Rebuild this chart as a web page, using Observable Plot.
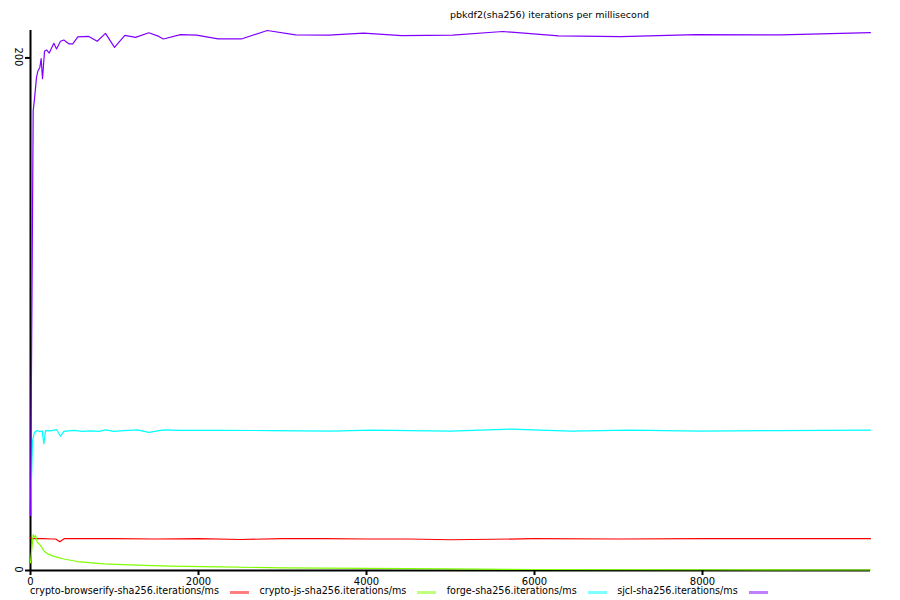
<!DOCTYPE html>
<html>
<head>
<meta charset="utf-8">
<script src="https://cdn.jsdelivr.net/npm/d3@7"></script>
<script src="https://cdn.jsdelivr.net/npm/@observablehq/plot@0.6"></script>
<style>
  html, body { margin: 0; padding: 0; background: #fff; }
  #wrap { position: relative; width: 900px; height: 600px; font-family: "DejaVu Sans", sans-serif; }
  #title { position: absolute; top: 9px; left: 450px; font-size: 9.5px; line-height: 12px; color: #000; white-space: nowrap; }
  #legend { position: absolute; top: 585px; left: 30px; font-size: 9.6px; line-height: 12px; display: flex; align-items: center; white-space: nowrap; }
  #legend .sw { display: inline-block; width: 19px; height: 3px; margin: 2px 10.5px 0 11px; }
  #chart { position: absolute; top: 0; left: 0; }
</style>
</head>
<body>
<div id="wrap">
  <div id="chart"></div>
  <div id="title"></div>
  <div id="legend"></div>
</div>
<script>
const title = "pbkdf2(sha256) iterations per millisecond";
const seriesNames = [
  "crypto-browserify-sha256.iterations/ms",
  "crypto-js-sha256.iterations/ms",
  "forge-sha256.iterations/ms",
  "sjcl-sha256.iterations/ms"
];
const seriesColors = ["#ff0000", "#80ff00", "#00ffff", "#8000ff"];
const xTicks = [0, 2000, 4000, 6000, 8000];
const yTicks = [0, 200];

// crypto-browserify (red)
const browserifyX = [0, 30, 60, 150, 250, 300, 349, 400, 600, 1000, 1500, 2000, 2500, 3000, 3500, 4000, 4500, 5000, 5500, 6000, 7000, 8000, 9000, 10000];
const browserifyY = [12.8, 12.4, 12.4, 12.4, 12.3, 12.3, 11.2, 12.4, 12.4, 12.4, 12.3, 12.4, 12.1, 12.4, 12.4, 12.3, 12.3, 12.0, 12.2, 12.4, 12.3, 12.4, 12.4, 12.4];

// crypto-js (green)
const cryptojsX = [0, 32, 48, 60, 80, 119, 160, 199, 278, 397, 556, 873, 1271, 1667, 2263, 3000, 4000, 5000, 6000, 8000, 10000];
const cryptojsY = [3.0, 14.0, 13.0, 13.6, 11.0, 9.8, 7.6, 6.6, 5.5, 4.5, 3.5, 2.6, 2.1, 1.7, 1.4, 1.0, 0.8, 0.6, 0.4, 0.3, 0.2];

// forge (cyan)
const forgeX = [0, 24, 48, 80, 111, 139, 159, 179, 238, 310, 357, 397, 516, 615, 715, 814, 893, 993, 1112, 1271, 1409, 1588, 1787, 2263, 2859, 3570, 4050, 5000, 5720, 6430, 7140, 7980, 8930, 10000];
const forgeY = [21.5, 50.7, 53.9, 54.6, 54.2, 54.5, 49.4, 54.6, 54.5, 55.0, 52.4, 54.3, 54.7, 54.3, 54.5, 54.3, 54.9, 54.3, 54.6, 54.9, 53.9, 54.9, 54.7, 54.7, 54.6, 54.4, 54.8, 54.4, 55.2, 54.4, 54.8, 54.4, 54.6, 54.8];

// sjcl (purple)
const sjclX = [0, 32, 48, 71, 87, 111, 127, 143, 167, 191, 223, 278, 310, 357, 397, 456, 504, 563, 694, 794, 893, 1000, 1123, 1251, 1409, 1528, 1581, 1787, 1977, 2233, 2510, 2819, 3156, 3549, 3966, 4419, 5026, 5622, 6289, 7027, 7920, 8933, 9999];
const sjclY = [21.5, 179.4, 184.1, 192.3, 194.8, 196.3, 199.7, 191.9, 202.6, 203.1, 201.9, 205.7, 203.5, 206.5, 207.0, 205.5, 205.5, 208.2, 208.4, 206.5, 209.6, 204.1, 208.8, 208.0, 209.8, 208.4, 207.4, 209.1, 208.9, 207.4, 207.4, 210.7, 209.0, 208.9, 209.7, 208.7, 208.9, 210.3, 208.6, 208.3, 209.1, 209.0, 209.9];

const seriesX = [browserifyX, cryptojsX, forgeX, sjclX];
const seriesY = [browserifyY, cryptojsY, forgeY, sjclY];
const rows = [];
seriesNames.forEach((name, i) => {
  seriesX[i].forEach((x, j) => rows.push({series: name, x, y: seriesY[i][j]}));
});

const chart = Plot.plot({
  width: 900,
  height: 600,
  marginLeft: 30,
  marginRight: 30,
  marginTop: 30,
  marginBottom: 30,
  style: {fontFamily: "DejaVu Sans, sans-serif", fontSize: "10px", background: "transparent"},
  x: {domain: [0, 10000], label: null},
  y: {domain: [0, 210.7], label: null},
  color: {domain: seriesNames, range: seriesColors},
  marks: [
    Plot.ruleX([0], {stroke: "#000", strokeWidth: 2}),
    Plot.ruleY([0], {stroke: "#000", strokeWidth: 2}),
    Plot.line(rows, {x: "x", y: "y", z: "series", stroke: "series", strokeWidth: 1.2}),
    Plot.axisX({ticks: xTicks, tickSize: 5, tickPadding: 2, tickFormat: d => String(d), label: null, stroke: "#000", strokeWidth: 2, fill: "#000"}),
    Plot.axisY({ticks: yTicks, tickSize: 5, tickFormat: () => "", label: null, stroke: "#000", strokeWidth: 2}),
    Plot.text(yTicks, {x: 0, y: d => d, text: d => String(d), rotate: 90, dx: -12, dy: -1, textAnchor: "middle", lineAnchor: "middle", fill: "#000"})
  ]
});
document.getElementById("chart").appendChild(chart);

document.getElementById("title").textContent = title;
const legend = document.getElementById("legend");
seriesNames.forEach((name, i) => {
  const t = document.createElement("span");
  t.textContent = name;
  legend.appendChild(t);
  const s = document.createElement("span");
  s.className = "sw";
  s.style.background = seriesColors[i];
  s.style.opacity = 0.5;
  legend.appendChild(s);
});
</script>
</body>
</html>
